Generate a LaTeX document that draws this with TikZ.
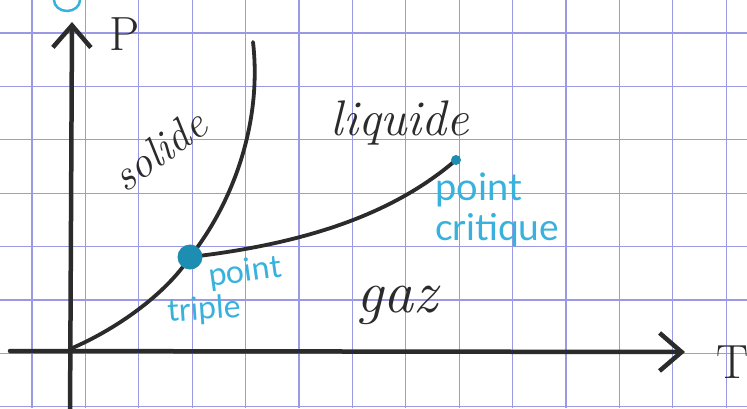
\documentclass[tikz,border=0pt]{standalone}
\usepackage{fontspec}
\newfontfamily\handsans{Lato}
\usetikzlibrary{arrows.meta}
\definecolor{gridc}{HTML}{9A9AE4}
\definecolor{ink}{HTML}{2B2B2B}
\definecolor{bluetext}{HTML}{38B2DC}
\definecolor{bluedot}{HTML}{1E8DB2}
\begin{document}
\begin{tikzpicture}[x=1pt,y=-1pt,
  gridline/.style={gridc, line width=1.2pt},
  axis/.style={ink, line width=4.5pt, line cap=round, -{Straight Barb[length=22pt,width=38pt,line width=4.5pt]}},
  curve/.style={ink, line width=3.8pt, line cap=round},
  blacklabel/.style={ink, font=\fontsize{50}{50}\selectfont\itshape, inner sep=0pt},
  bluelabel/.style={bluetext, font=\handsans\fontsize{32}{32}\selectfont, inner sep=0pt},
  dotstyle/.style={circle, fill=bluedot, inner sep=0pt}]
\useasboundingbox (0,0) rectangle (747,408);
\fill[white] (0,0) rectangle (747,408);
% grid paper
\foreach \i in {0,...,13} \draw[gridline] ({32+53.4*\i},0) -- ({32+53.4*\i},408);
\foreach \j in {0,...,7} \draw[gridline] (0,{33+53.4*\j}) -- (747,{33+53.4*\j});
% partial blue mark at top
\draw[bluetext, line width=2.5pt] (67,0) ellipse [x radius=13, y radius=11];
% axes
\coordinate (xstart) at (10,351);
\coordinate (xend) at (685,352);
\coordinate (ystart) at (70,420);
\coordinate (yend) at (72,22);
\draw[axis] (xstart) -- (xend);
\draw[axis] (ystart) -- (yend);
% key points
\coordinate (O) at (70,349);
\coordinate (tpc) at (190,257);
\coordinate (cpc) at (456,160);
\coordinate (ftop) at (253,42);
% phase boundaries
\draw[curve] (O) .. controls (115,330) and (165,295) .. (tpc);
\draw[curve] (tpc) .. controls (235,200) and (262,120) .. (ftop);
\draw[curve] (tpc) .. controls (320,242) and (400,208) .. (cpc);
\node[dotstyle, minimum size=25pt] (tp) at (tpc) {};
\node[dotstyle, minimum size=10pt] (cp) at (cpc) {};
% axis labels
\node[ink, font=\fontsize{48}{48}\selectfont, anchor=base, inner sep=0pt] (P) at (125,50) {P};
\node[ink, font=\fontsize{48}{48}\selectfont, anchor=base, inner sep=0pt] (T) at (733,378) {T};
% region labels
\node[blacklabel, font=\fontsize{44}{44}\selectfont\itshape, anchor=base, rotate=36] (solide) at (168,162) {solide};
\node[blacklabel, anchor=base] (liquide) at (400,135) {liquide};
\node[blacklabel, font=\fontsize{60}{60}\selectfont\itshape, anchor=base] (gaz) at (397,312) {gaz};
% point labels
\node[bluelabel, anchor=base west, rotate=8] (pt1) at (210,287) {point};
\node[bluelabel, anchor=base west, rotate=4] (pt2) at (168,322) {triple};
\node[bluelabel, font=\handsans\fontsize{38}{38}\selectfont, anchor=base west] (pc1) at (435,200) {point};
\node[bluelabel, font=\handsans\fontsize{37}{37}\selectfont, anchor=base west] (pc2) at (435,240) {critique};
\end{tikzpicture}
\end{document}
